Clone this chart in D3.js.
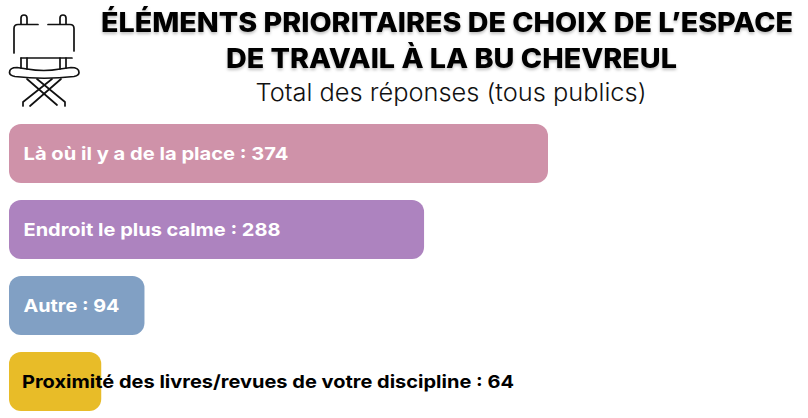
<!DOCTYPE html>
<html lang="fr">
<head>
<meta charset="utf-8">
<script src="https://cdn.jsdelivr.net/npm/d3@7"></script>
<style>
  html, body { margin: 0; padding: 0; background: #fff; }
  svg { display: block; }
  text { font-family: Inter, "Open Sans", sans-serif; }
</style>
</head>
<body>
<div id="chart"></div>
<script>
const categories = [
  'Là où il y a de la place',
  'Endroit le plus calme',
  'Autre',
  'Proximité des livres/revues de votre discipline'
]
const values = [374, 288, 94, 64]
const barColors = ['#cf92a9', '#ad83bf', '#81a0c4', '#e8bc28']
const labelColors = ['#fff', '#fff', '#fff', '#000']
const labelWidths = [265, 257, 96, 492]
const titleLines = ['ÉLÉMENTS PRIORITAIRES DE CHOIX DE L’ESPACE', 'DE TRAVAIL À LA BU CHEVREUL']
const subtitle = 'Total des réponses (tous publics)'

const width = 808
const height = 418

const svg = d3.select('#chart')
  .append('svg')
  .attr('width', width)
  .attr('height', height)

// Soft shadow behind the title
const blur = svg.append('defs').append('filter')
  .attr('id', 'titleShadow')
  .attr('x', '-5%').attr('y', '-30%')
  .attr('width', '110%').attr('height', '170%')
blur.append('feDropShadow')
  .attr('dx', 0).attr('dy', 2)
  .attr('stdDeviation', 1.6)
  .attr('flood-color', '#000')
  .attr('flood-opacity', 0.25)

// Title block
svg.selectAll('.title')
  .data(titleLines)
  .join('text')
    .attr('class', 'title')
    .attr('x', (d, i) => i === 0 ? 447 : 451.5)
    .attr('y', (d, i) => 32 + i * 36)
    .attr('text-anchor', 'middle')
    .attr('font-size', 27)
    .attr('font-weight', 800)
    .attr('fill', '#000')
    .attr('filter', 'url(#titleShadow)')
    .attr('textLength', (d, i) => i === 0 ? 692 : 451)
    .attr('lengthAdjust', 'spacingAndGlyphs')
    .text(d => d)

svg.append('text')
  .attr('x', 451)
  .attr('y', 101)
  .attr('text-anchor', 'middle')
  .attr('font-size', 24)
  .attr('font-weight', 300)
  .attr('fill', '#111')
  .attr('textLength', 391)
  .attr('lengthAdjust', 'spacingAndGlyphs')
  .text(subtitle)

// Bars
const x = d3.scaleLinear()
  .domain([0, 374])
  .range([9, 548])

const y = d3.scaleBand()
  .domain(categories)
  .range([124, 411])
  .paddingInner(17 / 76)
  .paddingOuter(0)

const rows = svg.selectAll('.row')
  .data(categories.map((c, i) => ({ category: c, value: values[i], i })))
  .join('g')
    .attr('class', 'row')

rows.append('rect')
  .attr('x', x(0))
  .attr('y', d => y(d.category))
  .attr('width', d => x(d.value) - x(0))
  .attr('height', y.bandwidth())
  .attr('rx', 12)
  .attr('fill', d => barColors[d.i])

rows.append('text')
  .attr('x', d => d.i === 3 ? 22 : 23.5)
  .attr('y', d => y(d.category) + y.bandwidth() / 2)
  .attr('dy', '0.36em')
  .attr('font-size', 18)
  .attr('font-weight', 700)
  .attr('fill', d => labelColors[d.i])
  .attr('textLength', d => labelWidths[d.i])
  .attr('lengthAdjust', 'spacingAndGlyphs')
  .text(d => `${d.category} : ${d.value}`)

// Director's chair icon
const icon = svg.append('g')
  .attr('fill', 'none')
  .attr('stroke', '#111')
  .attr('stroke-width', 1.7)
  .attr('stroke-linecap', 'round')
  .attr('stroke-linejoin', 'round')

const iconPaths = [
  'M14 53 V28.5 Q14 24.5 18 24.5 H38',
  'M48 24.5 H70 Q74 24.5 74 28.5 V51',
  'M21 24 V18 Q21 15 24 15 Q27 15 27 18 V24',
  'M60 24 V18 Q60 15 63 15 Q66 15 66 18 V24',
  'M21 58 H72',
  'M21 58 V68 M27 58 V69 M60 58 V69 M66 58 V68',
  'M27 69 Q44 72 60 69 L71 67.5 Q79 67.5 79 72.5 Q79 75.5 74 76.5 Q44 80 15 76.5 Q9.5 75.5 9.5 72.5 Q9.5 67.5 17 67.5 Z',
  'M27 79 L57 105',
  'M37 79 L65 102 V106',
  'M61 79 L30 106',
  'M52 79 L23 102 V106'
]
icon.selectAll('path')
  .data(iconPaths)
  .join('path')
    .attr('d', d => d)
</script>
</body>
</html>
